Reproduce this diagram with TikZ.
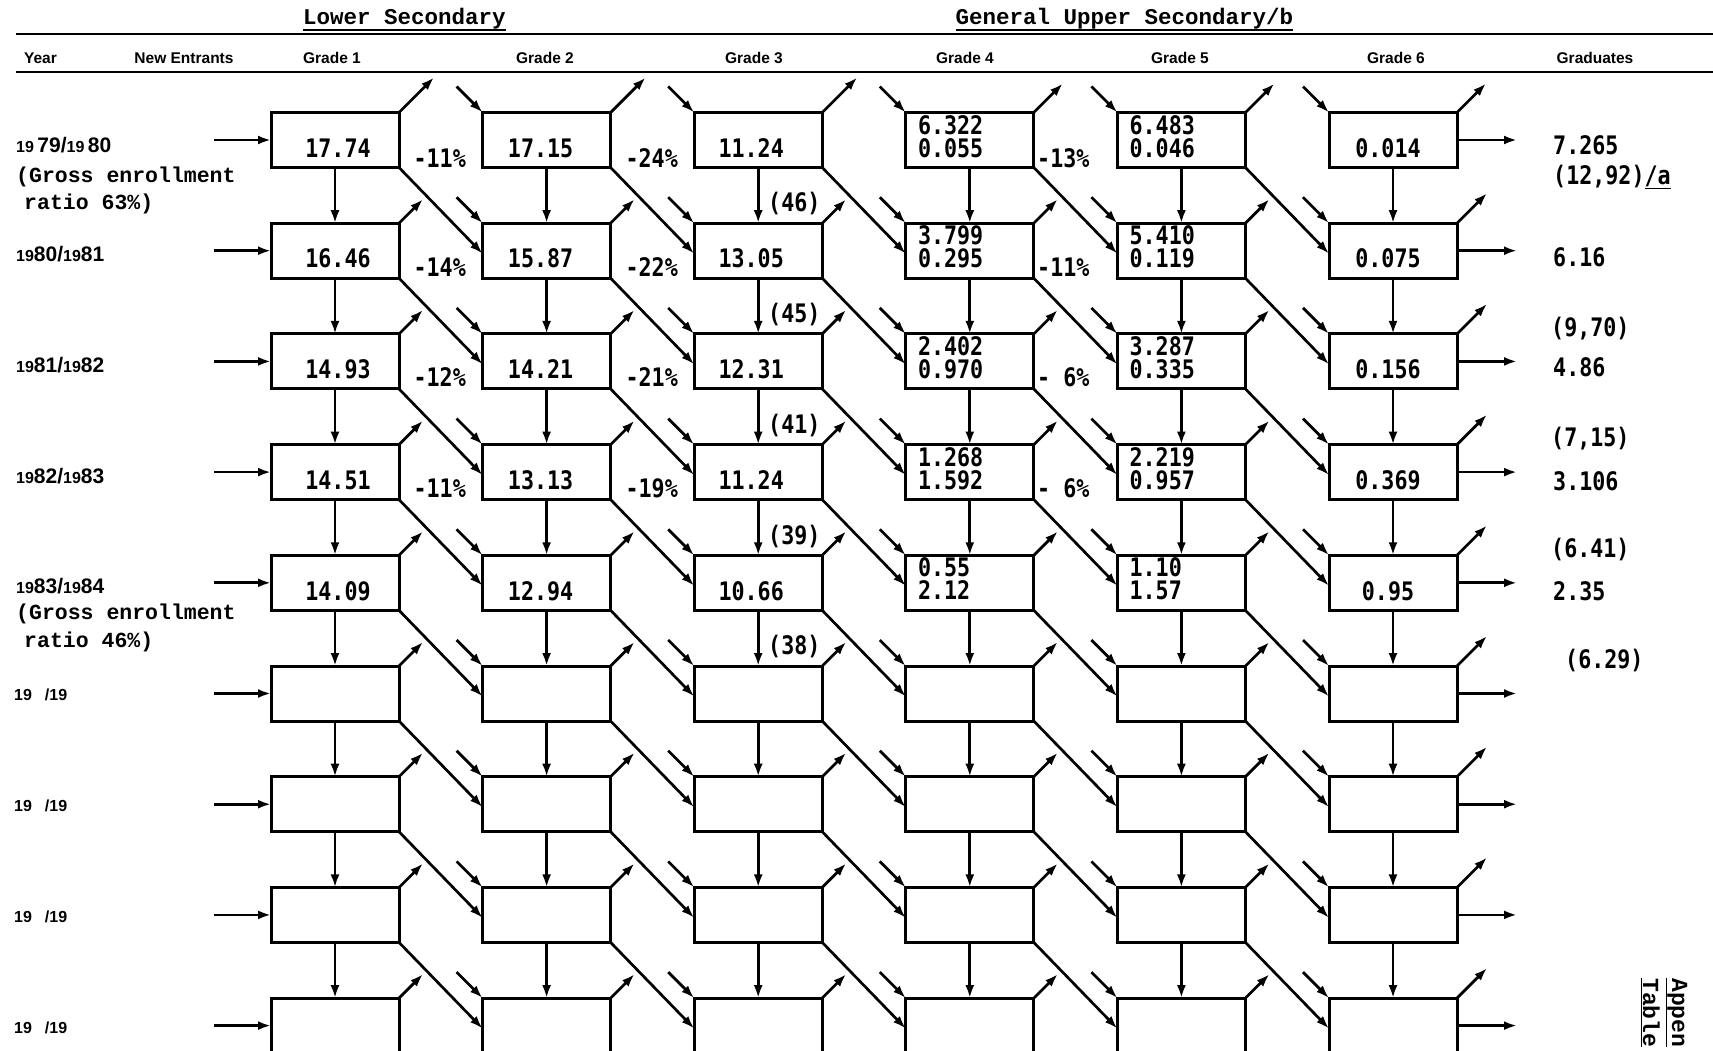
\documentclass[tikz,border=0pt]{standalone}
\usepackage{fontspec}
\usetikzlibrary{arrows.meta,calc}
\newfontfamily\numfont[FakeStretch=0.85]{DejaVu Sans Mono}
\newfontfamily\twfont{Liberation Mono}
\newfontfamily\hdfont{Liberation Sans}
\newcommand\myNum{\numfont\bfseries\fontsize{25.5}{26}\selectfont}
\newcommand\myTw{\twfont\bfseries\fontsize{21.5}{23}\selectfont}
\newcommand\myHead{\twfont\bfseries\fontsize{22.5}{24}\selectfont}
\newcommand\myHd{\hdfont\bfseries\fontsize{15.5}{17}\selectfont}
\newcommand\myYr{\hdfont\bfseries\fontsize{21}{22}\selectfont}
\newcommand\smnt{\fontsize{16}{17}\selectfont}
\begin{document}
\begin{tikzpicture}[x=1pt,y=-1pt,
  gbox/.style={draw, line width=3pt, minimum width=128pt, minimum height=55pt, inner sep=0pt, outer sep=0pt},
  arr/.style={line width=2.7pt, -{Latex[length=13pt,width=9pt]}},
  num/.style={font=\myNum, inner sep=0pt},
  tw/.style={font=\myTw, inner sep=0pt},
  hd/.style={font=\myHd, inner sep=0pt},
  yr/.style={font=\myYr, inner sep=0pt, anchor=base west},
  rule/.style={line width=2.8pt}]
\useasboundingbox (0,0) rectangle (1713,1050);
\fill[white] (0,0) rectangle (1713,1050);
\clip (0,0) rectangle (1713,1050);

% header
\node[font=\myHead, inner sep=0pt] (lowsec) at (404.5,19) {Lower Secondary};
\node[font=\myHead, inner sep=0pt] (upsec) at (1124.5,19) {General Upper Secondary/b};
\draw[line width=1.8pt] ($(lowsec.base west)+(0,5)$) -- ($(lowsec.base east)+(0,5)$);
\draw[line width=1.8pt] ($(upsec.base west)+(0,5)$) -- ($(upsec.base east)+(0,5)$);
\draw[rule] (16,34) -- (1713,34);
\draw[rule] (16,72) -- (1713,72);
\node[hd] (h-year) at (40.5,58) {Year};
\node[hd] (h-new) at (184,58) {New Entrants};
\node[hd] (h-g1) at (332,58) {Grade 1};
\node[hd] (h-g2) at (545,58) {Grade 2};
\node[hd] (h-g3) at (754,58) {Grade 3};
\node[hd] (h-g4) at (965,58) {Grade 4};
\node[hd] (h-g5) at (1180,58) {Grade 5};
\node[hd] (h-g6) at (1396,58) {Grade 6};
\node[hd] (h-gr) at (1595,58) {Graduates};

% boxes
\foreach \i in {1,...,9}{
  \foreach \j in {1,...,6}{
    \pgfmathsetmacro\xx{335+211.6*(\j-1)}
    \pgfmathsetmacro\yy{140+110.7*(\i-1)}
    \node[gbox] (b-\i-\j) at (\xx,\yy) {};
  }
}

% entries and graduates arrows
\foreach \i in {1,...,9}{
  \pgfmathsetmacro\yy{140+110.7*(\i-1)}
  \coordinate (ent-\i) at (214,\yy);
  \coordinate (grd-\i) at (1517,\yy);
  \draw[arr] (ent-\i) -- (b-\i-1.west);
  \draw[arr] (b-\i-6.east) -- (grd-\i);
}

% vertical (repeaters) and diagonal (promotion) arrows
\foreach \i in {1,...,8}{
  \pgfmathtruncatemacro\ni{\i+1}
  \foreach \j in {1,...,6}{
    \draw[arr] (b-\i-\j.south) -- (b-\ni-\j.north);
  }
  \foreach \j in {1,...,5}{
    \pgfmathtruncatemacro\nj{\j+1}
    \draw[arr] (b-\i-\j.south east) -- ($(b-\ni-\nj.west)+(0,3)$);
  }
}

% dropouts and new inflows
\foreach \i in {1,...,9}{
  \foreach \j in {1,...,6}{
    \pgfmathsetmacro\dd{\i==1 ? (\j<4 ? 35 : 29) : (\j==6 ? 30 : 24)}
    \coordinate (out-\i-\j) at ($(b-\i-\j.north east)+(\dd,-\dd)$);
    \draw[arr] (b-\i-\j.north east) -- (out-\i-\j);
  }
  \foreach \j in {2,...,6}{
    \coordinate (in-\i-\j) at ($(b-\i-\j.north west)+(-26,-26)$);
    \draw[arr] (in-\i-\j) -- (b-\i-\j.north west);
  }
}

% box contents
\foreach \i/\ga/\gb/\gc/\gda/\gdb/\gea/\geb/\gf in {
  1/17.74/17.15/11.24/6.322/0.055/6.483/0.046/0.014,
  2/16.46/15.87/13.05/3.799/0.295/5.410/0.119/0.075,
  3/14.93/14.21/12.31/2.402/0.970/3.287/0.335/0.156,
  4/14.51/13.13/11.24/1.268/1.592/2.219/0.957/0.369,
  5/14.09/12.94/10.66/0.55/2.12/1.10/1.57/0.95}{
  \pgfmathsetmacro\yy{140+110.7*(\i-1)}
  \node[num] (t-\i-1) at (338,\yy+8) {\ga};
  \node[num] (t-\i-2) at (540.6,\yy+8) {\gb};
  \node[num] (t-\i-3) at (751.2,\yy+8) {\gc};
  \node[num,anchor=base west] (t-\i-4a) at (917.8,\yy-6) {\gda};
  \node[num,anchor=base west] (t-\i-4b) at (917.8,\yy+17) {\gdb};
  \node[num,anchor=base west] (t-\i-5a) at (1129.4,\yy-6) {\gea};
  \node[num,anchor=base west] (t-\i-5b) at (1129.4,\yy+17) {\geb};
  \node[num] (t-\i-6) at (1388,\yy+8) {\gf};
}

% percentages
\node[num,anchor=east] (pa-1) at (466,158) {-11\%};
\node[num,anchor=east] (pa-2) at (466,266.7) {-14\%};
\node[num,anchor=east] (pa-3) at (466,377.4) {-12\%};
\node[num,anchor=east] (pa-4) at (466,488.1) {-11\%};
\node[num,anchor=east] (pb-1) at (678,158) {-24\%};
\node[num,anchor=east] (pb-2) at (678,266.7) {-22\%};
\node[num,anchor=east] (pb-3) at (678,377.4) {-21\%};
\node[num,anchor=east] (pb-4) at (678,488.1) {-19\%};
\node[num,anchor=west] (pc-1) at (1037,158) {-13\%};
\node[num,anchor=west] (pc-2) at (1037,266.7) {-11\%};
\node[num,anchor=west] (pc-3) at (1037,377.4) {-~6\%};
\node[num,anchor=west] (pc-4) at (1037,488.1) {-~6\%};

% grade 3 bracketed figures
\node[num,anchor=west] (q-1) at (768,204) {(46)};
\node[num,anchor=west] (q-2) at (768,314.7) {(45)};
\node[num,anchor=west] (q-3) at (768,425.4) {(41)};
\node[num,anchor=west] (q-4) at (768,536.1) {(39)};
\node[num,anchor=west] (q-5) at (768,646.8) {(38)};

% graduates
\node[num,anchor=west] (gr-1) at (1553,145) {7.265};
\node[num,anchor=west] (gr-1b) at (1553,177) {(12,92)\underline{/a}};
\node[num,anchor=west] (gr-2) at (1553,257) {6.16};
\node[num,anchor=west] (gr-3a) at (1551,329) {(9,70)};
\node[num,anchor=west] (gr-3) at (1553,367) {4.86};
\node[num,anchor=west] (gr-4a) at (1551,439) {(7,15)};
\node[num,anchor=west] (gr-4) at (1553,481) {3.106};
\node[num,anchor=west] (gr-5a) at (1551,549.5) {(6.41)};
\node[num,anchor=west] (gr-5) at (1553,591) {2.35};
\node[num,anchor=west] (gr-6a) at (1565,660) {(6.29)};

% year labels
\node[yr] (y-1) at (16,152) {{\smnt 19}\,79/{\smnt 19}\,80};
\node[yr] (y-2) at (16,261.7) {{\smnt 19}80/{\smnt 19}81};
\node[yr] (y-3) at (16,372.4) {{\smnt 19}81/{\smnt 19}82};
\node[yr] (y-4) at (16,483.1) {{\smnt 19}82/{\smnt 19}83};
\node[yr] (y-5) at (16,593.8) {{\smnt 19}83/{\smnt 19}84};
\node[yr] (y-6) at (14,700) {\smnt 19\hspace{13pt}/19};
\node[yr] (y-7) at (14,811) {\smnt 19\hspace{13pt}/19};
\node[yr] (y-8) at (14,922) {\smnt 19\hspace{13pt}/19};
\node[yr] (y-9) at (14,1033) {\smnt 19\hspace{13pt}/19};
\node[tw,anchor=west] (ge-1) at (16,177) {(Gross enrollment};
\node[tw,anchor=west] (gr-r1) at (24,204) {ratio 63\%)};
\node[tw,anchor=west] (ge-5) at (16,614) {(Gross enrollment};
\node[tw,anchor=west] (gr-r5) at (24,642) {ratio 46\%)};

% appendix caption (rotated)
\node[font=\twfont\bfseries\fontsize{23}{24}\selectfont, rotate=-90, anchor=base west, inner sep=0pt] (app1) at (1672,978) {\underline{Appen}};
\node[font=\twfont\bfseries\fontsize{23}{24}\selectfont, rotate=-90, anchor=base west, inner sep=0pt] (app2) at (1643,978) {\underline{Table}};
\end{tikzpicture}
\end{document}
